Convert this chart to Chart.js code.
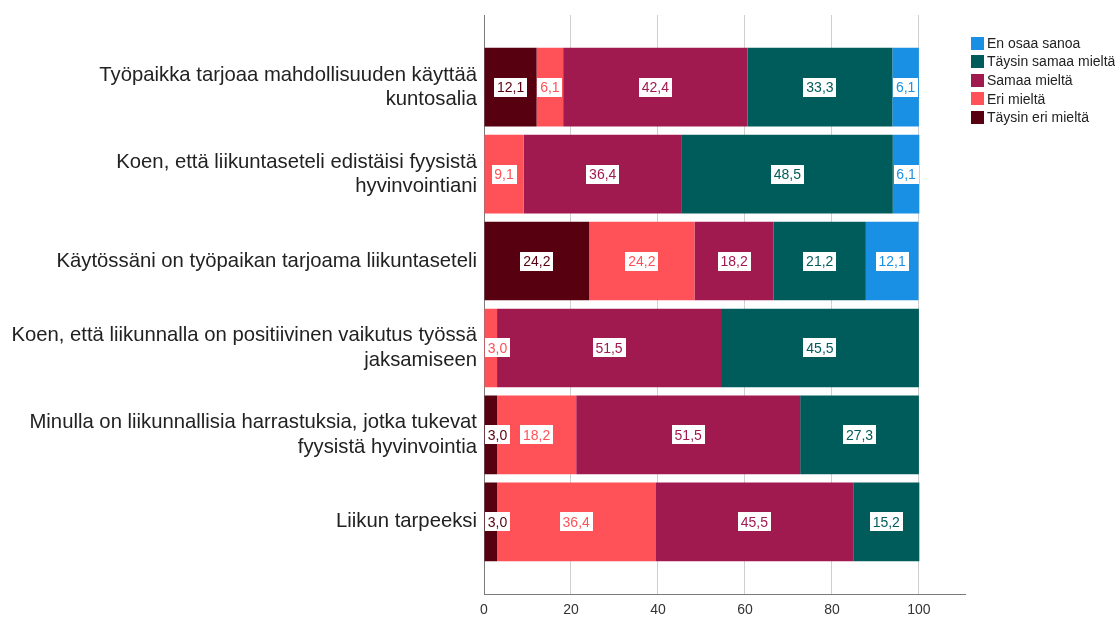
<!DOCTYPE html>
<html>
<head>
<meta charset="utf-8">
<script src="https://cdn.jsdelivr.net/npm/chart.js@4/dist/chart.umd.min.js"></script>
<style>
  html, body { margin: 0; padding: 0; background: #fff; overflow: hidden; }
</style>
</head>
<body>
<canvas id="c" width="1115" height="617"></canvas>
<script>
// Statements (top to bottom)
const statements = [
  ['Työpaikka tarjoaa mahdollisuuden käyttää', 'kuntosalia'],
  ['Koen, että liikuntaseteli edistäisi fyysistä', 'hyvinvointiani'],
  ['Käytössäni on työpaikan tarjoama liikuntaseteli'],
  ['Koen, että liikunnalla on positiivinen vaikutus työssä', 'jaksamiseen'],
  ['Minulla on liikunnallisia harrastuksia, jotka tukevat', 'fyysistä hyvinvointia'],
  ['Liikun tarpeeksi']
];

// Response shares (%) per statement, in stacking order
const taysinEriMielta   = [12.1, null, 24.2, null, 3.0, 3.0];
const eriMielta         = [6.1, 9.1, 24.2, 3.0, 18.2, 36.4];
const samaaMielta       = [42.4, 36.4, 18.2, 51.5, 51.5, 45.5];
const taysinSamaaMielta = [33.3, 48.5, 21.2, 45.5, 27.3, 15.2];
const enOsaaSanoa       = [6.1, 6.1, 12.1, null, null, null];

const seriesNames = ['Täysin eri mieltä', 'Eri mieltä', 'Samaa mieltä', 'Täysin samaa mieltä', 'En osaa sanoa'];
const seriesValues = [taysinEriMielta, eriMielta, samaaMielta, taysinSamaaMielta, enOsaaSanoa];
const seriesColors = ['#570010', '#ff5158', '#a01a50', '#005c5b', '#1a90e4'];

const xTicks = [0, 20, 40, 60, 80, 100];

const FONT = '"Liberation Sans", Arial, sans-serif';

const datasets = seriesNames.map((name, s) => ({
  label: name,
  data: seriesValues[s].map((v, i) => ({ x: v, y: i })),
  backgroundColor: seriesColors[s],
  borderWidth: 0,
  grouped: false,
  categoryPercentage: 1,
  barPercentage: 0.905
}));

// White value boxes centred on each segment
const valueLabels = {
  id: 'valueLabels',
  afterDatasetsDraw(chart) {
    const ctx = chart.ctx;
    const area = chart.chartArea;
    ctx.save();
    ctx.font = '14px ' + FONT;
    ctx.textAlign = 'center';
    ctx.textBaseline = 'middle';
    chart.data.datasets.forEach((ds, di) => {
      const meta = chart.getDatasetMeta(di);
      meta.data.forEach((bar, i) => {
        const v = ds.data[i].x;
        if (v === null || v === undefined) return;
        const txt = v.toFixed(1).replace('.', ',');
        const w = Math.round(ctx.measureText(txt).width + 6);
        const h = 19;
        let cx = (bar.x + bar.base) / 2;
        if (cx - w / 2 < area.left + 1) cx = area.left + 1 + w / 2;
        ctx.fillStyle = '#ffffff';
        ctx.fillRect(Math.round(cx - w / 2), Math.round(bar.y - h / 2), w, h);
        ctx.fillStyle = ds.backgroundColor;
        ctx.fillText(txt, cx, bar.y + 1);
      });
    });
    ctx.restore();
  }
};

// Legend column to the right of the plot, last series first
const sideLegend = {
  id: 'sideLegend',
  afterDraw(chart) {
    const ctx = chart.ctx;
    const area = chart.chartArea;
    const x0 = area.right + 6;
    const y0 = area.top + 28;
    const step = 18.6;
    const box = 13;
    ctx.save();
    ctx.font = '14px ' + FONT;
    ctx.textAlign = 'left';
    ctx.textBaseline = 'middle';
    const order = chart.data.datasets.map((_, i) => i).reverse();
    order.forEach((di, k) => {
      const ds = chart.data.datasets[di];
      const cy = y0 + k * step;
      ctx.fillStyle = ds.backgroundColor;
      ctx.fillRect(x0, Math.round(cy - box / 2), box, box);
      ctx.fillStyle = '#222';
      ctx.fillText(ds.label, x0 + box + 3, cy + 1);
    });
    ctx.restore();
  }
};

new Chart(document.getElementById('c'), {
  type: 'bar',
  data: { datasets },
  options: {
    responsive: false,
    animation: false,
    indexAxis: 'y',
    layout: { padding: { top: 15, left: 0, right: 150, bottom: 0 } },
    scales: {
      x: {
        type: 'linear',
        stacked: true,
        min: 0,
        max: 110.6,
        afterBuildTicks: axis => { axis.ticks = xTicks.map(v => ({ value: v })); },
        afterFit: axis => { axis.height = 23; axis.paddingLeft = 0; axis.paddingRight = 0; },
        grid: { color: '#cfcfcf', drawTicks: false, lineWidth: 1 },
        border: { display: true, color: '#7a7a7a', width: 1 },
        ticks: { color: '#333', font: { family: FONT, size: 14 }, padding: 8, maxRotation: 0 }
      },
      y: {
        type: 'linear',
        reverse: true,
        offset: false,
        min: -0.83,
        max: 5.83,
        afterBuildTicks: axis => { axis.ticks = statements.map((_, i) => ({ value: i })); },
        afterFit: axis => { axis.width = 484; axis.paddingTop = 0; axis.paddingBottom = 0; },
        grid: { display: false, drawTicks: false },
        border: { display: true, color: '#7a7a7a', width: 1 },
        ticks: {
          color: '#222',
          font: { family: FONT, size: 20.3, lineHeight: 1.2 },
          padding: 7,
          autoSkip: false,
          callback: v => statements[v] || ''
        }
      }
    },
    plugins: {
      tooltip: { enabled: false },
      legend: { display: false }
    }
  },
  plugins: [valueLabels, sideLegend]
});
</script>
</body>
</html>
